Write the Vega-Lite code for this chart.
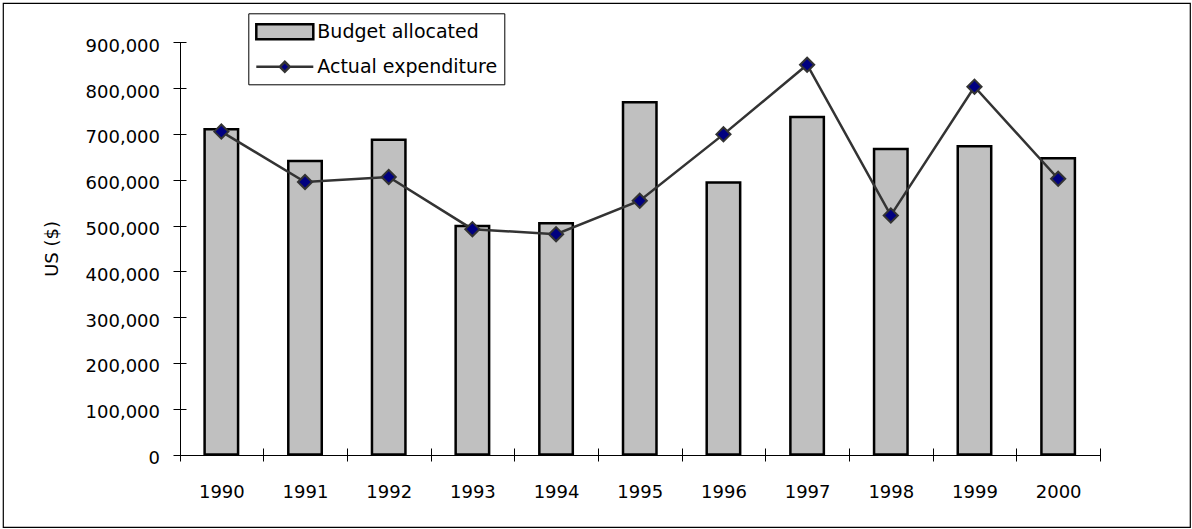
{
  "$schema": "https://vega.github.io/schema/vega-lite/v6.json",
  "autosize": {"type": "none"},
  "padding": {"left": 3, "top": 3, "right": 2, "bottom": 2},
  "width": 1187,
  "height": 524,
  "background": "white",
  "config": {
    "view": {"stroke": "black", "strokeWidth": 1.2},
    "font": "DejaVu Sans",
    "axis": {"tickColor": "black", "labelColor": "black", "titleColor": "black", "gridColor": "black", "gridWidth": 1, "labelFont": "DejaVu Sans", "titleFont": "DejaVu Sans", "labelFontSize": 18, "titleFontSize": 18, "titleFontWeight": "normal", "tickWidth": 1}
  },
  "data": {
    "values": [
      {"year": "1990", "budget": 710000, "actual": 705000},
      {"year": "1991", "budget": 641000, "actual": 595000},
      {"year": "1992", "budget": 687000, "actual": 606000},
      {"year": "1993", "budget": 499000, "actual": 492000},
      {"year": "1994", "budget": 505000, "actual": 481000},
      {"year": "1995", "budget": 769000, "actual": 554000},
      {"year": "1996", "budget": 594000, "actual": 699000},
      {"year": "1997", "budget": 737000, "actual": 851000},
      {"year": "1998", "budget": 667000, "actual": 522000},
      {"year": "1999", "budget": 673000, "actual": 803000},
      {"year": "2000", "budget": 647000, "actual": 602000}
    ]
  },
  "layer": [
    {
      "mark": {"type": "bar", "width": {"band": 0.4}, "stroke": "black", "strokeWidth": 2.5},
      "encoding": {
        "x": {"field": "year", "type": "nominal", "sort": null,
          "scale": {"range": [176.5, 1097], "paddingInner": 0, "paddingOuter": 0},
          "axis": {"orient": "top", "offset": -458, "domain": false, "tickBand": "extent", "tickSize": 13, "labelPadding": -35.5, "labelBaseline": "top", "labelAngle": 0, "title": null,
            "grid": true, "gridOpacity": {"condition": {"test": "datum.value == null", "value": 1}, "value": 0}}},
        "y": {"field": "budget", "type": "quantitative",
          "scale": {"domain": [0, 900000], "range": [451.5, 39.3], "nice": false},
          "axis": {"orient": "left", "offset": -183, "domain": false, "values": [0, 100000, 200000, 300000, 400000, 500000, 600000, 700000, 800000, 900000], "format": ",.0f", "tickSize": 13, "labelPadding": 13.5, "labelOffset": 4, "title": "US ($)", "titlePadding": 24,
            "grid": true, "gridOpacity": {"condition": {"test": "datum.value === 0", "value": 1}, "value": 0}}},
        "color": {"datum": "Budget allocated", "type": "nominal",
          "scale": {"domain": ["Budget allocated", "Actual expenditure"], "range": ["#C0C0C0", "#000080"]},
          "legend": {
            "orient": "none", "legendX": 245.3, "legendY": 10.3, "title": null,
            "strokeColor": "black", "fillColor": "white", "padding": 7,
            "labelFont": "DejaVu Sans", "labelFontSize": 19, "labelColor": "black", "labelLimit": 0,
            "symbolSize": 400, "symbolOffset": 18, "labelOffset": 21, "rowPadding": 11, "symbolStrokeWidth": 2.5,
            "symbolType": {"expr": "datum.value === 'Budget allocated' ? 'M-2.85,-0.75H2.85V0.75H-2.85Z' : 'M-2.85,0H-0.5M0.5,0H2.85M-0.5,0L0,-0.5L0.5,0L0,0.5Z'"},
            "symbolStrokeColor": {"expr": "datum.value === 'Budget allocated' ? 'black' : '#333333'"}
          }}
      }
    },
    {
      "mark": {"type": "line", "stroke": "#333333", "strokeWidth": 2.5},
      "encoding": {
        "x": {"field": "year", "type": "nominal", "sort": null},
        "y": {"field": "actual", "type": "quantitative"}
      }
    },
    {
      "mark": {"type": "point", "shape": "diamond", "filled": true, "fill": "#000080", "size": 200, "stroke": "#333333", "strokeWidth": 2, "opacity": 1},
      "encoding": {
        "x": {"field": "year", "type": "nominal", "sort": null},
        "y": {"field": "actual", "type": "quantitative"}
      }
    }
  ]
}
